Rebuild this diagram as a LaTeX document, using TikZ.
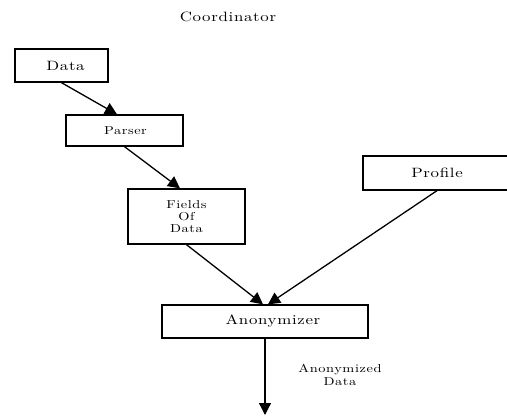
\documentclass[tikz,border=0pt]{standalone}
\usepackage{fontspec}
\usetikzlibrary{arrows.meta}
\usepackage{xcolor}
\newfontfamily\widefont{lmroman10-regular.otf}[FakeStretch=1.25,LetterSpace=5]
\newcommand{\bigtxt}{\widefont\fontsize{13.5}{15}\selectfont}
\newcommand{\smalltxt}{\widefont\fontsize{11.5}{12.5}\selectfont}
\begin{document}
\begin{tikzpicture}[x=1pt,y=-1pt]
	\tikzset{vertex/.style = {shape=rectangle,draw,line width=1.3pt,inner sep=0pt}}
	\tikzset{edge/.style = {line width=1.3pt,-{Triangle[length=12pt,width=12pt]}}}
	\useasboundingbox (0,0) rectangle (507,416);
	\node (t) at (228,17) {\bigtxt Coordinator};
	\node[vertex,minimum width=93pt,minimum height=33pt] (0) at (61.5,65.5) {\hspace*{8pt}\bigtxt Data};
	\node[vertex,minimum width=117pt,minimum height=31pt] (1) at (124.5,130.5) {\hspace*{2pt}\smalltxt Parser};
	\node[vertex,minimum width=117pt,minimum height=55pt,align=center] (2) at (186.5,216.5) {\smalltxt Fields\\\smalltxt Of\\\smalltxt Data};
	\node[vertex,minimum width=148pt,minimum height=34pt] (3) at (437,173) {\bigtxt Profile};
	\node[vertex,minimum width=206pt,minimum height=33pt] (4) at (265,321.5) {\hspace*{16pt}\bigtxt Anonymizer};
	\coordinate (5) at (265,415);
	\node[align=center] (6) at (340,375) {\smalltxt Anonymized\\[1pt]\smalltxt Data};
	%edges
	\draw[edge] (0.south) to ([xshift=-7.5pt]1.north);
	\draw[edge] (1.south) to ([xshift=-6.5pt]2.north);
	\draw[edge] (2.south) to ([xshift=-2pt]4.north);
	\draw[edge] (3.south) to ([xshift=3pt]4.north);
	\draw[edge] (4.south) to (5);
\end{tikzpicture}
\end{document}
